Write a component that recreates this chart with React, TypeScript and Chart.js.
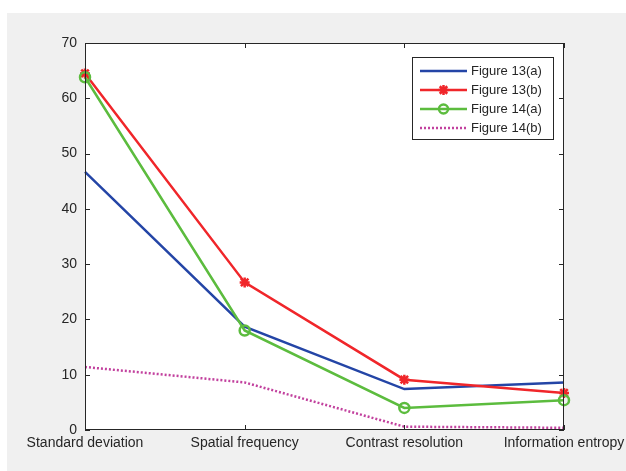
import React, { useEffect, useRef } from "react";
import { Chart, registerables } from "chart.js";

Chart.register(...registerables);

const categories = ["Standard deviation", "Spatial frequency", "Contrast resolution", "Information entropy"];
const fig13a = [46.7, 18.7, 7.4, 8.6];
const fig13b = [64.5, 26.7, 9.1, 6.7];
const fig14a = [63.8, 18.0, 4.0, 5.4];
const fig14b = [11.4, 8.6, 0.6, 0.4];
const seriesNames = ["Figure 13(a)", "Figure 13(b)", "Figure 14(a)", "Figure 14(b)"];
const yTicks = [0, 10, 20, 30, 40, 50, 60, 70];

const BLUE = "#2445a6";
const RED = "#f0262a";
const GREEN = "#5cbc3e";
const MAGENTA = "#c2419e";
const AXIS = "#262626";
const FONT = "'Liberation Sans', Arial, sans-serif";

function drawStar(ctx: CanvasRenderingContext2D, x: number, y: number, r: number, color: string) {
  ctx.save();
  ctx.strokeStyle = color;
  ctx.lineWidth = 2.5;
  ctx.setLineDash([]);
  ctx.beginPath();
  ctx.moveTo(x - r, y); ctx.lineTo(x + r, y);
  ctx.moveTo(x, y - r); ctx.lineTo(x, y + r);
  const d = r * 0.75;
  ctx.moveTo(x - d, y - d); ctx.lineTo(x + d, y + d);
  ctx.moveTo(x - d, y + d); ctx.lineTo(x + d, y - d);
  ctx.stroke();
  ctx.restore();
}

function drawCircle(ctx: CanvasRenderingContext2D, x: number, y: number, r: number, color: string) {
  ctx.save();
  ctx.strokeStyle = color;
  ctx.lineWidth = 2.5;
  ctx.setLineDash([]);
  ctx.beginPath();
  ctx.arc(x, y, r, 0, Math.PI * 2);
  ctx.stroke();
  ctx.restore();
}

const framePlugin = {
  id: "frame",
  beforeDraw(chart: any) {
    const { ctx, width, height, chartArea } = chart;
    ctx.save();
    ctx.fillStyle = "#ffffff";
    ctx.fillRect(0, 0, width, height);
    ctx.fillStyle = "#f0f0f0";
    ctx.fillRect(7, 13, width - 7, height - 13);
    ctx.fillStyle = "#ffffff";
    ctx.fillRect(chartArea.left, chartArea.top, chartArea.right - chartArea.left, chartArea.bottom - chartArea.top);
    ctx.restore();
  },
  afterDatasetsDraw(chart: any) {
    const { ctx, chartArea } = chart;
    const { left, right, top, bottom } = chartArea;
    const x = chart.scales.x;
    const y = chart.scales.y;
    ctx.save();
    ctx.strokeStyle = AXIS;
    ctx.lineWidth = 1;
    ctx.strokeRect(left + 0.5, top + 0.5, right - left - 1, bottom - top - 1);
    ctx.beginPath();
    const tl = 5;
    yTicks.forEach((v) => {
      const py = Math.round(y.getPixelForValue(v)) + 0.5;
      ctx.moveTo(left, py); ctx.lineTo(left + tl, py);
      ctx.moveTo(right, py); ctx.lineTo(right - tl, py);
    });
    categories.forEach((_, i) => {
      const px = Math.round(x.getPixelForValue(i)) + 0.5;
      ctx.moveTo(px, bottom); ctx.lineTo(px, bottom - tl);
      ctx.moveTo(px, top); ctx.lineTo(px, top + tl);
    });
    ctx.stroke();

    // legend
    const bx = 412, by = 57, bw = 141, bh = 82;
    ctx.fillStyle = "#ffffff";
    ctx.fillRect(bx, by, bw, bh);
    ctx.strokeStyle = AXIS;
    ctx.strokeRect(bx + 0.5, by + 0.5, bw, bh);
    const colors = [BLUE, RED, GREEN, MAGENTA];
    const rows = [71, 90, 109, 128];
    rows.forEach((ry, i) => {
      ctx.save();
      ctx.strokeStyle = colors[i];
      ctx.lineWidth = 2.5;
      ctx.setLineDash(i === 3 ? [2, 2] : []);
      ctx.beginPath();
      ctx.moveTo(420, ry); ctx.lineTo(467, ry);
      ctx.stroke();
      ctx.restore();
      if (i === 1) drawStar(ctx, 443.5, ry, 5, RED);
      if (i === 2) drawCircle(ctx, 443.5, ry, 4.5, GREEN);
      ctx.fillStyle = AXIS;
      ctx.font = "13px " + FONT;
      ctx.textBaseline = "middle";
      ctx.textAlign = "left";
      ctx.fillText(seriesNames[i], 471, ry + 0.5);
    });
    ctx.restore();
  },
};

const markerPlugin = {
  id: "markers",
  afterDatasetDraw(chart: any, args: any) {
    const { ctx } = chart;
    const i = args.index;
    if (i !== 1 && i !== 2) return;
    const meta = chart.getDatasetMeta(i);
    meta.data.forEach((pt: any) => {
      if (i === 1) drawStar(ctx, pt.x, pt.y, 5, RED);
      else drawCircle(ctx, pt.x, pt.y, 5, GREEN);
    });
  },
};

export default function App() {
  const ref = useRef<HTMLCanvasElement>(null);
  useEffect(() => {
    document.body.style.margin = "0";
    const canvas = ref.current!;
    const datasets = [fig13a, fig13b, fig14a, fig14b].map((d, i) => ({
      label: seriesNames[i],
      data: d,
      borderColor: [BLUE, RED, GREEN, MAGENTA][i],
      backgroundColor: [BLUE, RED, GREEN, MAGENTA][i],
      borderWidth: 2.5,
      borderDash: i === 3 ? [2, 2] : [],
      pointRadius: 0,
      tension: 0,
      fill: false,
      order: 4 - i,
    }));
    const chart = new Chart(canvas, {
      type: "line",
      data: { labels: categories, datasets },
      options: {
        animation: false,
        responsive: false,
        maintainAspectRatio: false,
        layout: { padding: { left: 0, right: 62, top: 43, bottom: 0 } },
        plugins: { legend: { display: false }, tooltip: { enabled: false } },
        scales: {
          x: {
            type: "category",
            offset: false,
            grid: { display: false, drawTicks: false },
            border: { display: false },
            ticks: { color: AXIS, font: { family: FONT, size: 14 }, padding: 5, maxRotation: 0, autoSkip: false },
            afterFit: (s: any) => { s.height = 41; s.paddingLeft = 0; s.paddingRight = 0; },
          },
          y: {
            min: 0,
            max: 70,
            grid: { display: false, drawTicks: false },
            border: { display: false },
            ticks: { stepSize: 10, color: AXIS, font: { family: FONT, size: 14 }, padding: 8 },
            afterFit: (s: any) => { s.width = 85; s.paddingTop = 0; s.paddingBottom = 0; },
          },
        },
      } as any,
      plugins: [framePlugin, markerPlugin],
    });
    return () => chart.destroy();
  }, []);
  return (
    <div style={{ width: 626, height: 471 }}>
      <canvas ref={ref} width={626} height={471} style={{ display: "block" }} />
    </div>
  );
}
